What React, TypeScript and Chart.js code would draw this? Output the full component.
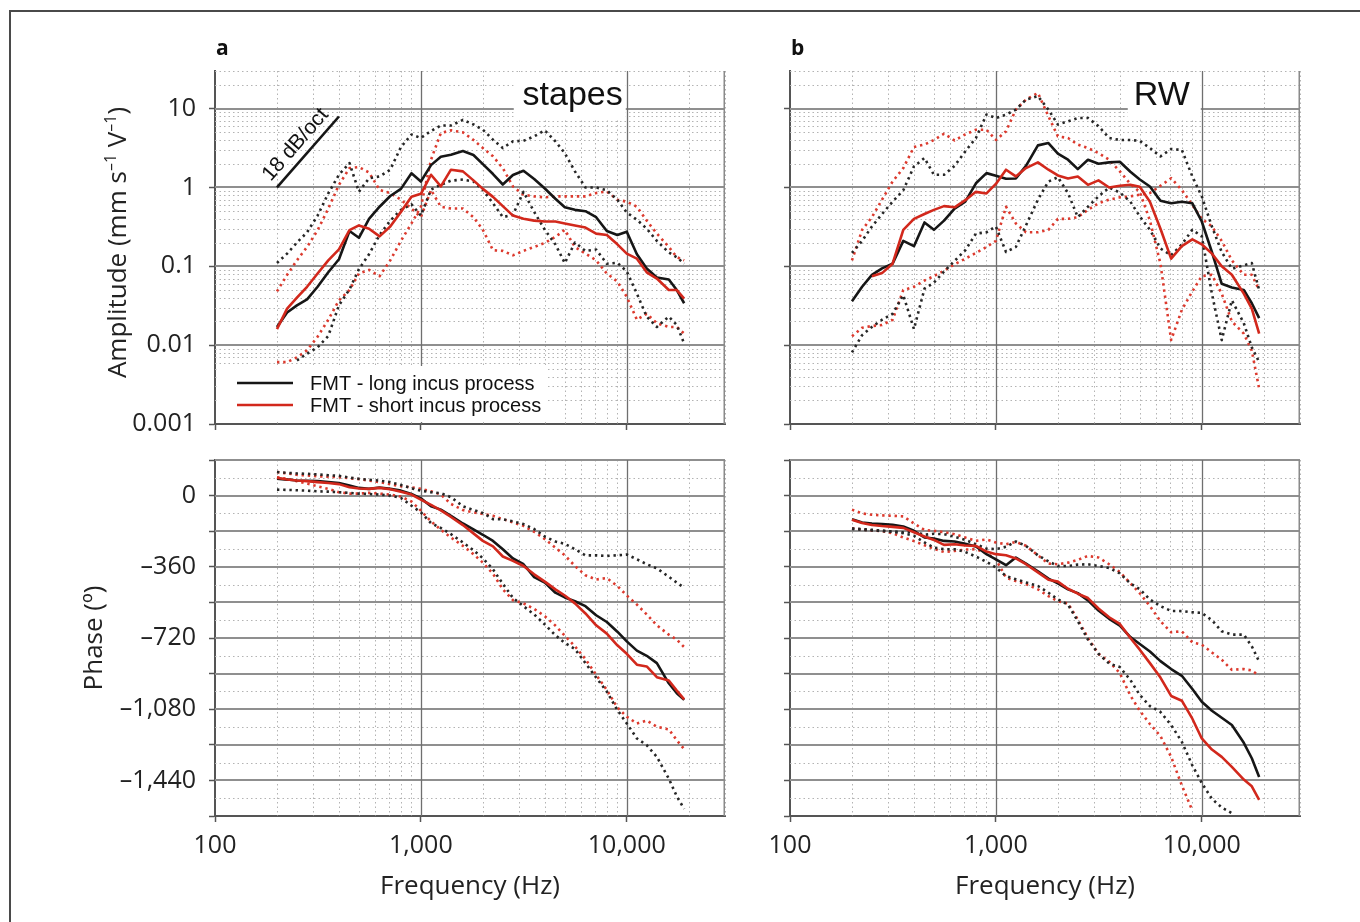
import React, { useEffect, useRef } from "react";
import { Chart, registerables } from "chart.js";

Chart.register(...registerables);

// ---------------- data ----------------
const FREQ = [200, 224, 250, 280, 315, 355, 400, 450, 500, 560, 630, 710, 800, 900, 1000, 1120, 1250, 1400, 1600, 1800, 2000, 2240, 2500, 2800, 3150, 3550, 4000, 4500, 5000, 5600, 6300, 7100, 8000, 9000, 10000, 11200, 12500, 14000, 16000, 17500, 19000];

// a: stapes amplitude (mm s-1 V-1)
const STAPES_AMP_LONG = [0.017, 0.026, 0.032, 0.038, 0.055, 0.084, 0.123, 0.28, 0.23, 0.40, 0.57, 0.78, 0.96, 1.51, 1.19, 1.92, 2.45, 2.6, 2.9, 2.58, 1.98, 1.48, 1.09, 1.44, 1.63, 1.28, 0.97, 0.72, 0.56, 0.52, 0.50, 0.42, 0.28, 0.25, 0.275, 0.142, 0.094, 0.072, 0.068, 0.050, 0.034];
const STAPES_AMP_SHORT = [0.016, 0.029, 0.040, 0.055, 0.081, 0.119, 0.164, 0.287, 0.33, 0.30, 0.24, 0.32, 0.49, 0.76, 0.83, 1.45, 1.03, 1.68, 1.6, 1.23, 0.96, 0.76, 0.58, 0.44, 0.40, 0.38, 0.37, 0.37, 0.35, 0.33, 0.31, 0.26, 0.25, 0.19, 0.145, 0.125, 0.084, 0.070, 0.050, 0.050, 0.039];
const STAPES_AMP_LONG_HI = [0.11, 0.145, 0.20, 0.27, 0.44, 0.84, 1.45, 2.04, 0.88, 1.31, 1.38, 1.68, 3.26, 4.7, 4.24, 5.2, 6.1, 6.1, 7.2, 6.3, 5.4, 4.04, 3.16, 3.85, 3.9, 4.45, 5.3, 3.85, 2.73, 1.6, 1.0, 1.0, 0.92, 0.70, 0.48, 0.39, 0.30, 0.21, 0.15, 0.13, 0.108];
const STAPES_AMP_LONG_LO = [null, null, 0.0064, 0.0078, 0.0094, 0.0131, 0.032, 0.051, 0.092, 0.142, 0.25, 0.38, 0.52, 0.61, 0.44, 0.94, 1.08, 1.22, 1.26, 1.19, 0.93, 0.63, 0.42, 0.45, 0.88, 0.49, 0.29, 0.19, 0.11, 0.20, 0.157, 0.163, 0.108, 0.111, 0.086, 0.045, 0.023, 0.017, 0.023, 0.018, 0.0105];
const STAPES_AMP_SHORT_A = [0.048, 0.078, 0.119, 0.176, 0.287, 0.54, 1.08, 1.76, 1.81, 1.55, 0.93, 0.85, 0.70, 0.54, 0.42, 0.93, 0.57, 0.54, 0.54, 0.42, 0.29, 0.16, 0.157, 0.138, 0.157, 0.176, 0.198, 0.236, 0.29, 0.176, 0.145, 0.119, 0.081, 0.064, 0.041, 0.021, 0.025, 0.019, 0.017, 0.017, 0.014];
const STAPES_AMP_SHORT_B = [0.0061, 0.0061, 0.0070, 0.0086, 0.0128, 0.021, 0.037, 0.050, 0.081, 0.090, 0.075, 0.119, 0.21, 0.35, 0.57, 2.25, 4.9, 5.3, 5.0, 4.0, 3.16, 2.48, 1.76, 1.03, 0.81, 0.77, 0.75, 0.77, 0.77, 0.77, 0.77, 0.85, 0.89, 0.70, 0.66, 0.57, 0.38, 0.26, 0.176, 0.131, 0.119];

// b: round window amplitude
const RW_AMP_LONG = [0.036, 0.055, 0.078, 0.094, 0.108, 0.21, 0.18, 0.36, 0.29, 0.38, 0.54, 0.66, 1.13, 1.52, 1.41, 1.29, 1.30, 1.88, 3.42, 3.66, 2.68, 2.25, 1.71, 2.25, 2.0, 2.08, 2.12, 1.58, 1.26, 1.03, 0.68, 0.63, 0.66, 0.63, 0.37, 0.152, 0.060, 0.054, 0.050, 0.034, 0.022];
const RW_AMP_SHORT = [null, null, 0.075, 0.082, 0.108, 0.29, 0.40, 0.46, 0.52, 0.58, 0.56, 0.69, 0.88, 0.84, 1.11, 1.68, 1.38, 1.76, 2.08, 1.68, 1.42, 1.30, 1.38, 1.08, 1.23, 1.0, 1.05, 1.08, 1.02, 0.66, 0.30, 0.125, 0.18, 0.22, 0.19, 0.145, 0.10, 0.078, 0.045, 0.029, 0.014];
const RW_AMP_LONG_HI = [0.148, 0.21, 0.32, 0.46, 0.66, 0.92, 1.85, 2.36, 1.45, 1.45, 1.88, 2.87, 4.24, 8.4, 7.6, 8.4, 9.7, 13.0, 14.4, 9.7, 6.3, 6.9, 7.6, 7.6, 6.0, 4.24, 4.0, 4.0, 3.9, 3.16, 2.48, 3.07, 3.0, 1.38, 0.77, 0.32, 0.152, 0.093, 0.103, 0.11, 0.05];
const RW_AMP_LONG_LO = [0.0081, 0.0134, 0.017, 0.021, 0.025, 0.043, 0.016, 0.052, 0.062, 0.086, 0.117, 0.16, 0.26, 0.27, 0.32, 0.152, 0.176, 0.33, 0.70, 1.19, 1.35, 0.85, 0.42, 0.57, 0.77, 1.0, 0.86, 0.66, 0.43, 0.29, 0.168, 0.138, 0.19, 0.29, 0.24, 0.045, 0.0116, 0.037, 0.019, 0.0094, 0.0061];
const RW_AMP_SHORT_HI = [0.119, 0.29, 0.42, 0.70, 1.19, 1.76, 3.26, 3.5, 4.0, 4.8, 3.95, 4.7, 5.4, 5.4, 4.0, 5.15, 9.7, 13, 15.8, 8.0, 4.45, 4.24, 3.5, 3.16, 2.73, 2.25, 1.6, 1.11, 0.88, 0.38, 0.108, 0.0116, 0.028, 0.048, 0.075, 0.078, 0.045, 0.020, 0.014, 0.0085, 0.0028];
const RW_AMP_SHORT_LO = [0.013, 0.0166, 0.0175, 0.018, 0.021, 0.050, 0.055, 0.066, 0.075, 0.088, 0.106, 0.125, 0.148, 0.176, 0.21, 0.57, 0.35, 0.27, 0.27, 0.29, 0.40, 0.40, 0.42, 0.52, 0.63, 0.70, 0.75, 0.77, 0.81, 0.85, 1.05, 1.31, 0.93, 0.60, 0.40, 0.32, 0.21, 0.119, 0.078, 0.078, 0.050];

// a: stapes phase (deg)
const STAPES_PH_LONG = [85, 81, 76, 75, 73, 68, 64, 51, 39, 34, 41, 34, 25, 8, -14, -54, -71, -102, -141, -171, -198, -229, -271, -318, -347, -412, -440, -491, -515, -534, -559, -605, -639, -688, -737, -784, -810, -847, -949, -999, -1033];
const STAPES_PH_SHORT = [90, 81, 76, 73, 68, 64, 58, 42, 36, 34, 39, 32, 19, 5, -20, -47, -75, -108, -149, -191, -229, -257, -308, -330, -356, -398, -435, -474, -505, -545, -596, -656, -698, -757, -800, -855, -864, -918, -935, -986, -1030];
const STAPES_PH_LONG_HI = [119, 115, 112, 110, 107, 103, 100, 91, 85, 80, 76, 68, 54, 37, 25, 17, 12, -8, -54, -73, -88, -119, -120, -130, -144, -169, -207, -232, -244, -271, -302, -302, -305, -302, -298, -322, -347, -368, -410, -440, -466];
const STAPES_PH_SHORT_HI = [119, 112, 105, 102, 98, 95, 93, 88, 83, 76, 68, 58, 47, 42, 34, 22, 5, -42, -73, -85, -93, -102, -119, -136, -153, -183, -220, -263, -302, -356, -403, -424, -417, -457, -505, -551, -601, -656, -703, -728, -766];
const STAPES_PH_LONG_LO = [30, 29, 27, 25, 22, 20, 17, 14, 10, 8, 5, 0, -12, -51, -85, -139, -164, -195, -237, -276, -317, -373, -446, -517, -559, -601, -652, -706, -745, -776, -847, -920, -991, -1084, -1152, -1228, -1262, -1321, -1431, -1521, -1584];
const STAPES_PH_SHORT_LO = [93, 85, 73, 61, 47, 34, 17, 10, 10, 14, 10, 5, -5, -30, -76, -130, -173, -212, -254, -296, -339, -395, -474, -529, -545, -573, -610, -657, -708, -762, -827, -906, -983, -1071, -1118, -1152, -1137, -1169, -1182, -1237, -1282];

// b: round window phase (deg)
const RW_PH_LONG = [-120, -136, -141, -144, -147, -156, -178, -212, -217, -229, -232, -244, -257, -296, -322, -352, -313, -344, -383, -420, -444, -474, -493, -530, -581, -623, -657, -715, -750, -788, -837, -877, -911, -978, -1042, -1088, -1123, -1160, -1250, -1328, -1423];
const RW_PH_SHORT = [-122, -139, -149, -154, -158, -163, -185, -207, -224, -249, -246, -252, -254, -283, -296, -302, -318, -347, -388, -425, -435, -471, -496, -518, -571, -615, -649, -720, -779, -847, -920, -1013, -1037, -1128, -1228, -1284, -1321, -1372, -1436, -1470, -1538];
const RW_PH_LONG_HI = [-166, -169, -173, -178, -181, -186, -183, -198, -193, -195, -208, -224, -246, -268, -271, -259, -232, -254, -302, -332, -356, -356, -349, -347, -356, -366, -393, -444, -474, -525, -559, -583, -584, -590, -593, -630, -686, -703, -703, -762, -839];
const RW_PH_SHORT_HI = [-71, -90, -97, -100, -102, -105, -141, -174, -178, -185, -195, -212, -229, -222, -237, -246, -234, -254, -302, -344, -347, -339, -325, -305, -313, -347, -386, -444, -494, -559, -635, -691, -686, -742, -754, -793, -830, -881, -877, -884, -911];
const RW_PH_LONG_LO = [-169, -173, -176, -178, -183, -190, -203, -237, -263, -271, -271, -285, -308, -335, -364, -407, -423, -439, -457, -491, -525, -551, -635, -728, -800, -849, -867, -932, -1008, -1064, -1094, -1160, -1245, -1364, -1453, -1533, -1577, -1606, null, null, null];
const RW_PH_SHORT_LO = [-166, -171, -176, -180, -190, -212, -230, -251, -269, -285, -280, -273, -271, -291, -322, -415, -432, -447, -474, -508, -534, -545, -627, -720, -800, -839, -898, -1011, -1088, -1155, -1216, -1321, -1465, -1592, null, null, null, null, null, null, null];

// slope guide "18 dB/oct"
const SLOPE_FREQ = [200, 400];
const SLOPE_AMP = [1, 7.94];

// ticks
const FREQ_TICKS = [100, 1000, 10000];
const FREQ_LABELS = ["100", "1,000", "10,000"];
const AMP_TICKS = [0.001, 0.01, 0.1, 1, 10];
const AMP_LABELS = ["0.001", "0.01", "0.1", "1", "10"];
const PHASE_TICKS = [-1440, -1080, -720, -360, 0];
const PHASE_LABELS = ["\u20131,440", "\u20131,080", "\u2013720", "\u2013360", "0"];
const LEGEND_LABELS = ["FMT - long incus process", "FMT - short incus process"];

// ---------------- style ----------------
const BLACK = "#161616";
const RED = "#d2281c";
const BLACK_DOT = "#262626";
const RED_DOT = "#dc3a2e";
const AXIS = "#555555";
const TEXT = "#222222";
const SANS = '"Open Sans", "DejaVu Sans", sans-serif';
const ARIAL = '"Liberation Sans", Arial, sans-serif';

// gridline value lists
const X_MAJOR = [1000, 10000];
const X_MINOR: number[] = [];
[100, 1000, 10000].forEach((d) => {
  for (let m = 2; m <= 9; m++) if (d * m <= 30000) X_MINOR.push(d * m);
});
const AMP_MAJOR = [0.01, 0.1, 1, 10];
const AMP_MINOR: number[] = [];
[0.001, 0.01, 0.1, 1, 10].forEach((d) => {
  for (let m = 2; m <= 9; m++) if (d * m <= 30.0001) AMP_MINOR.push(d * m);
});
const PHASE_MARKS: number[] = [];
for (let v = -1620; v <= 180; v += 180) PHASE_MARKS.push(v);
const PHASE_MAJOR = PHASE_MARKS.filter((v) => v > -1620);
const PHASE_MINOR = PHASE_MARKS.filter((v) => v < 180).map((v) => v + 90);

type Style = "black" | "red" | "blackDot" | "redDot";

function ds(vals: (number | null)[], style: Style, xs: number[] = FREQ) {
  const solid = style === "black" || style === "red";
  const color = style === "black" ? BLACK : style === "red" ? RED : style === "blackDot" ? BLACK_DOT : RED_DOT;
  return {
    data: xs.map((f, i) => ({ x: f, y: vals[i] })),
    borderColor: color,
    backgroundColor: color,
    borderWidth: 2.6,
    borderDash: solid ? [] : [2.4, 3.8],
    borderJoinStyle: "round",
    pointRadius: 0,
    pointHoverRadius: 0,
    tension: 0,
    fill: false,
  };
}

function drawGrid(chart: any, kind: "amp" | "phase") {
  const { ctx, chartArea: a } = chart;
  const xs = chart.scales.x;
  const ys = chart.scales.y;
  ctx.save();
  const vline = (px: number) => {
    ctx.beginPath();
    ctx.moveTo(px, a.top);
    ctx.lineTo(px, a.bottom);
    ctx.stroke();
  };
  const hline = (py: number) => {
    ctx.beginPath();
    ctx.moveTo(a.left, py);
    ctx.lineTo(a.right, py);
    ctx.stroke();
  };
  ctx.lineWidth = 1;
  ctx.strokeStyle = "#b3b3b3";
  ctx.setLineDash([1.5, 3]);
  X_MINOR.forEach((v) => vline(Math.round(xs.getPixelForValue(v)) + 0.5));
  (kind === "amp" ? AMP_MINOR : PHASE_MINOR).forEach((v) => hline(Math.round(ys.getPixelForValue(v)) + 0.5));
  ctx.setLineDash([]);
  ctx.strokeStyle = "#8f8f8f";
  ctx.lineWidth = 2;
  (kind === "amp" ? AMP_MAJOR : PHASE_MAJOR).forEach((v) => hline(Math.round(ys.getPixelForValue(v))));
  ctx.strokeStyle = "#6f6f6f";
  ctx.lineWidth = 1.3;
  X_MAJOR.forEach((v) => vline(Math.round(xs.getPixelForValue(v)) + 0.5));
  ctx.strokeStyle = "#8a8a8a";
  ctx.lineWidth = 1.5;
  vline(a.right - 0.75);
  ctx.restore();
}

function textBox(ctx: any, text: string, xRight: number, baseline: number, box: [number, number, number, number]) {
  ctx.save();
  ctx.fillStyle = "#ffffff";
  ctx.fillRect(box[0], box[1], box[2], box[3]);
  ctx.fillStyle = "#111111";
  ctx.font = `34px ${ARIAL}`;
  ctx.textAlign = "right";
  ctx.textBaseline = "alphabetic";
  ctx.fillText(text, xRight, baseline);
  ctx.restore();
}

function drawAmpTitle(ctx: any, x: number, y: number) {
  const parts = [
    { t: "Amplitude (mm s", sup: false },
    { t: "\u20131", sup: true },
    { t: " V", sup: false },
    { t: "\u20131", sup: true },
    { t: ")", sup: false },
  ];
  const big = `26px ${SANS}`;
  const small = `16px ${SANS}`;
  ctx.save();
  ctx.translate(x, y);
  ctx.rotate(-Math.PI / 2);
  let total = 0;
  parts.forEach((p) => {
    ctx.font = p.sup ? small : big;
    total += ctx.measureText(p.t).width;
  });
  let cx = -total / 2;
  ctx.fillStyle = TEXT;
  ctx.textBaseline = "middle";
  ctx.textAlign = "left";
  parts.forEach((p) => {
    ctx.font = p.sup ? small : big;
    ctx.fillText(p.t, cx, p.sup ? -8 : 0);
    cx += ctx.measureText(p.t).width;
  });
  ctx.restore();
}

interface PanelSpec {
  kind: "amp" | "phase";
  side: "left" | "right";
  datasets: any[];
  decor: (chart: any) => void;
}

function makeConfig(spec: PanelSpec) {
  const left = spec.side === "left";
  const top = spec.kind === "amp";
  const yWidth = left ? 215 : 90;
  const xHeight = top ? 36 : 86;
  return {
    type: "line",
    data: { datasets: spec.datasets },
    options: {
      responsive: false,
      maintainAspectRatio: false,
      animation: false,
      events: [],
      layout: { padding: { left: 0, right: left ? 15 : 60, top: top ? 41 : 30, bottom: top ? 0 : 20 } },
      plugins: { legend: { display: false }, tooltip: { enabled: false }, title: { display: false } },
      scales: {
        x: {
          type: "logarithmic",
          position: "bottom",
          min: 100,
          max: 30000,
          afterBuildTicks: (s: any) => {
            s.ticks = FREQ_TICKS.map((v) => ({ value: v }));
          },
          afterFit: (s: any) => {
            s.height = xHeight;
          },
          ticks: {
            display: !top,
            autoSkip: false,
            maxRotation: 0,
            padding: 9,
            color: TEXT,
            font: { family: SANS, size: 25 },
            callback: (_v: any, i: number) => FREQ_LABELS[i],
          },
          grid: { display: true, drawOnChartArea: false, drawTicks: true, tickLength: 6, tickColor: AXIS, tickWidth: 1.5 },
          border: { display: true, color: AXIS, width: 2 },
          title: {
            display: !top,
            text: "Frequency (Hz)",
            color: TEXT,
            font: { family: SANS, size: 26 },
            padding: { top: 0, bottom: 0 },
          },
        },
        y: top
          ? {
              type: "logarithmic",
              position: "left",
              min: 0.001,
              max: 30,
              afterBuildTicks: (s: any) => {
                s.ticks = AMP_TICKS.map((v) => ({ value: v }));
              },
              afterFit: (s: any) => {
                s.width = yWidth;
              },
              ticks: {
                display: left,
                autoSkip: false,
                padding: 13,
                color: TEXT,
                font: { family: SANS, size: 25 },
                callback: (_v: any, i: number) => AMP_LABELS[i],
              },
              grid: { display: true, drawOnChartArea: false, drawTicks: true, tickLength: 6, tickColor: AXIS, tickWidth: 1.5 },
              border: { display: true, color: AXIS, width: 2 },
              title: { display: false },
            }
          : {
              type: "linear",
              position: "left",
              min: -1620,
              max: 180,
              afterBuildTicks: (s: any) => {
                s.ticks = PHASE_MARKS.map((v) => ({ value: v }));
              },
              afterFit: (s: any) => {
                s.width = yWidth;
              },
              ticks: {
                display: left,
                autoSkip: false,
                padding: 13,
                color: TEXT,
                font: { family: SANS, size: 25 },
                callback: (v: any) => {
                  const k = PHASE_TICKS.indexOf(Number(v));
                  return k >= 0 ? PHASE_LABELS[k] : "";
                },
              },
              grid: { display: true, drawOnChartArea: false, drawTicks: true, tickLength: 6, tickColor: AXIS, tickWidth: 1.5 },
              border: { display: true, color: AXIS, width: 2 },
              title: {
                display: left,
                text: "Phase (\u00ba)",
                color: TEXT,
                font: { family: SANS, size: 26 },
                padding: { top: 79, bottom: 0 },
              },
            },
      },
    },
    plugins: [
      {
        id: "panelDecor",
        beforeDatasetsDraw(chart: any) {
          drawGrid(chart, spec.kind);
          spec.decor(chart);
        },
      },
    ],
  };
}

function panelLabel(ctx: any, a: any, text: string) {
  ctx.save();
  ctx.fillStyle = "#111";
  ctx.font = `bold 21px ${SANS}`;
  ctx.textAlign = "left";
  ctx.textBaseline = "alphabetic";
  ctx.fillText(text, a.left + 1, a.top - 16);
  ctx.restore();
}

const PANELS: PanelSpec[] = [
  {
    kind: "amp",
    side: "left",
    datasets: [
      ds(STAPES_AMP_SHORT, "red"),
      ds(STAPES_AMP_LONG, "black"),
      ds(SLOPE_AMP, "black", SLOPE_FREQ),
      ds(STAPES_AMP_LONG_HI, "blackDot"),
      ds(STAPES_AMP_LONG_LO, "blackDot"),
      ds(STAPES_AMP_SHORT_A, "redDot"),
      ds(STAPES_AMP_SHORT_B, "redDot"),
    ],
    decor: (chart: any) => {
      const { ctx, chartArea: a } = chart;
      const xs = chart.scales.x;
      const ys = chart.scales.y;
      panelLabel(ctx, a, "a");
      drawAmpTitle(ctx, 119, (a.top + a.bottom) / 2 - 5);
      const x10k = xs.getPixelForValue(10000);
      textBox(ctx, "stapes", x10k - 4, a.top + 34, [x10k - 113, a.top + 1, 112, 46]);
      // legend
      ctx.save();
      ctx.fillStyle = "#ffffff";
      ctx.fillRect(a.left + 3, a.bottom - 58, 328, 56);
      const rows: [string, string][] = [
        [LEGEND_LABELS[0], BLACK],
        [LEGEND_LABELS[1], RED],
      ];
      rows.forEach(([label, color], i) => {
        const y = a.bottom - 41 + i * 22;
        ctx.strokeStyle = color;
        ctx.lineWidth = 2.6;
        ctx.beginPath();
        ctx.moveTo(a.left + 22, y);
        ctx.lineTo(a.left + 78, y);
        ctx.stroke();
        ctx.fillStyle = "#111";
        ctx.font = `20px ${ARIAL}`;
        ctx.textBaseline = "middle";
        ctx.textAlign = "left";
        ctx.fillText(label, a.left + 95, y + 1);
      });
      ctx.restore();
      // slope label
      const x1 = xs.getPixelForValue(SLOPE_FREQ[0]);
      const y1 = ys.getPixelForValue(SLOPE_AMP[0]);
      const x2 = xs.getPixelForValue(SLOPE_FREQ[1]);
      const y2 = ys.getPixelForValue(SLOPE_AMP[1]);
      const ang = Math.atan2(y2 - y1, x2 - x1);
      const len = Math.hypot(x2 - x1, y2 - y1);
      const nx = (y2 - y1) / len;
      const ny = -(x2 - x1) / len;
      ctx.save();
      ctx.translate((x1 + x2) / 2 + nx * 2 - 3, (y1 + y2) / 2 + ny * 2 + 1);
      ctx.rotate(ang);
      ctx.fillStyle = "#111";
      ctx.font = `21px ${ARIAL}`;
      ctx.textAlign = "center";
      ctx.textBaseline = "bottom";
      ctx.fillText("18 dB/oct", 0, 0);
      ctx.restore();
    },
  },
  {
    kind: "amp",
    side: "right",
    datasets: [
      ds(RW_AMP_SHORT, "red"),
      ds(RW_AMP_LONG, "black"),
      ds(RW_AMP_LONG_HI, "blackDot"),
      ds(RW_AMP_LONG_LO, "blackDot"),
      ds(RW_AMP_SHORT_HI, "redDot"),
      ds(RW_AMP_SHORT_LO, "redDot"),
    ],
    decor: (chart: any) => {
      const { ctx, chartArea: a } = chart;
      const xs = chart.scales.x;
      panelLabel(ctx, a, "b");
      const x10k = xs.getPixelForValue(10000);
      textBox(ctx, "RW", x10k - 12, a.top + 34, [x10k - 74, a.top + 1, 73, 46]);
    },
  },
  {
    kind: "phase",
    side: "left",
    datasets: [
      ds(STAPES_PH_SHORT, "red"),
      ds(STAPES_PH_LONG, "black"),
      ds(STAPES_PH_LONG_HI, "blackDot"),
      ds(STAPES_PH_LONG_LO, "blackDot"),
      ds(STAPES_PH_SHORT_HI, "redDot"),
      ds(STAPES_PH_SHORT_LO, "redDot"),
    ],
    decor: () => {},
  },
  {
    kind: "phase",
    side: "right",
    datasets: [
      ds(RW_PH_SHORT, "red"),
      ds(RW_PH_LONG, "black"),
      ds(RW_PH_LONG_HI, "blackDot"),
      ds(RW_PH_LONG_LO, "blackDot"),
      ds(RW_PH_SHORT_HI, "redDot"),
      ds(RW_PH_SHORT_LO, "redDot"),
    ],
    decor: () => {},
  },
];

const GEOM = [
  { left: 0, top: 30, width: 740, height: 430 },
  { left: 700, top: 30, width: 660, height: 430 },
  { left: 0, top: 430, width: 740, height: 492 },
  { left: 700, top: 430, width: 660, height: 492 },
];

export default function App() {
  const refs = [useRef<HTMLCanvasElement>(null), useRef<HTMLCanvasElement>(null), useRef<HTMLCanvasElement>(null), useRef<HTMLCanvasElement>(null)];

  useEffect(() => {
    const charts = PANELS.map((p, i) => new Chart(refs[i].current as HTMLCanvasElement, makeConfig(p) as any));
    return () => charts.forEach((c) => c.destroy());
  }, []);

  return (
    <div style={{ position: "absolute", left: 0, top: 0, width: 1360, height: 922, background: "#ffffff", overflow: "hidden" }}>
      <div
        style={{
          position: "absolute",
          left: 9,
          top: 10,
          width: 1360,
          height: 930,
          borderLeft: "2px solid #4a4a4a",
          borderTop: "2px solid #4a4a4a",
        }}
      />
      {GEOM.map((g, i) => (
        <canvas
          key={i}
          ref={refs[i]}
          width={g.width}
          height={g.height}
          style={{ position: "absolute", left: g.left, top: g.top, width: g.width, height: g.height }}
        />
      ))}
    </div>
  );
}
